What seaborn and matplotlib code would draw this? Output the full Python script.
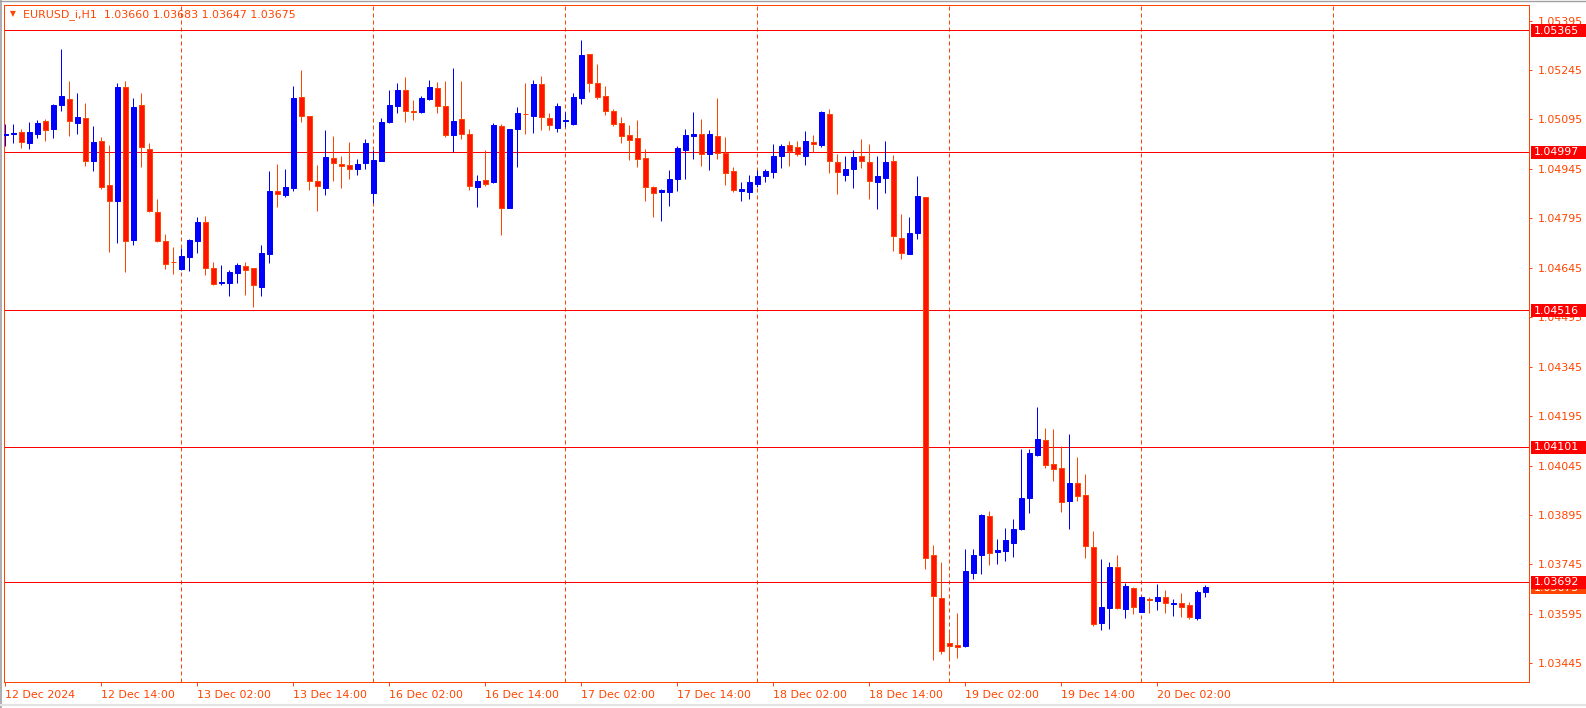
import numpy as np
import pandas as pd
import matplotlib
matplotlib.use("Agg")
import matplotlib.pyplot as plt
import matplotlib.transforms as mtransforms
from matplotlib.patches import Rectangle
from matplotlib.lines import Line2D
import seaborn as sns

# ---------------- data (EURUSD_i, H1) ----------------
symbol = "EURUSD_i,H1"

opens = [1.05048, 1.05052, 1.05056, 1.05024, 1.05052, 1.05090, 1.05067, 1.05140, 1.05157, 1.05085,
         1.05098, 1.04970, 1.05030, 1.04895, 1.04848, 1.05192, 1.04730, 1.05139, 1.05005, 1.04814,
         1.04726, 1.04663, 1.04642, 1.04679, 1.04727, 1.04783, 1.04643, 1.04600, 1.04600, 1.04630,
         1.04649, 1.04643, 1.04587, 1.04688, 1.04877, 1.04866, 1.04888, 1.05162, 1.05105, 1.04907,
         1.04888, 1.04978, 1.04959, 1.04956, 1.04946, 1.04964, 1.04873, 1.04970, 1.05087, 1.05137,
         1.05184, 1.05121, 1.05118, 1.05157, 1.05190, 1.05136, 1.05049, 1.05096, 1.05051, 1.04891,
         1.04910, 1.04904, 1.05074, 1.04827, 1.05067, 1.05112, 1.05106, 1.05203, 1.05098, 1.05070,
         1.05089, 1.05082, 1.05160, 1.05294, 1.05206, 1.05166, 1.05121, 1.05084, 1.05047, 1.05039,
         1.04978, 1.04890, 1.04876, 1.04875, 1.04915, 1.05003, 1.05046, 1.05050, 1.04991, 1.05044,
         1.04994, 1.04938, 1.04879, 1.04876, 1.04900, 1.04924, 1.04936, 1.04985, 1.05017, 1.05010,
         1.04985, 1.05026, 1.05018, 1.05111, 1.04965, 1.04927, 1.04946, 1.04983, 1.04965, 1.04906,
         1.04918, 1.04968, 1.04734, 1.04688, 1.04751, 1.04859, 1.03773, 1.03642, 1.03507, 1.03500,
         1.03497, 1.03720, 1.03774, 1.03892, 1.03782, 1.03787, 1.03811, 1.03853, 1.03948, 1.04078,
         1.04122, 1.04050, 1.04038, 1.03938, 1.03991, 1.03956, 1.03798, 1.03568, 1.03613, 1.03737,
         1.03611, 1.03673, 1.03602, 1.03640, 1.03635, 1.03645, 1.03626, 1.03627, 1.03621, 1.03582,
         1.03660]

highs = [1.05081, 1.05081, 1.05065, 1.05087, 1.05093, 1.05095, 1.05142, 1.05309, 1.05212, 1.05175,
         1.05145, 1.05075, 1.05042, 1.05017, 1.05206, 1.05212, 1.05160, 1.05175, 1.05024, 1.04854,
         1.04747, 1.04708, 1.04705, 1.04732, 1.04800, 1.04802, 1.04662, 1.04653, 1.04638, 1.04659,
         1.04662, 1.04643, 1.04714, 1.04939, 1.04960, 1.04945, 1.05196, 1.05245, 1.05105, 1.04957,
         1.05063, 1.05044, 1.04984, 1.05027, 1.04975, 1.05037, 1.05002, 1.05099, 1.05184, 1.05206,
         1.05224, 1.05154, 1.05166, 1.05215, 1.05210, 1.05212, 1.05251, 1.05212, 1.05066, 1.04926,
         1.05002, 1.05084, 1.05080, 1.05066, 1.05133, 1.05206, 1.05215, 1.05227, 1.05115, 1.05145,
         1.05118, 1.05175, 1.05336, 1.05294, 1.05264, 1.05196, 1.05127, 1.05102, 1.05078, 1.05093,
         1.05005, 1.04893, 1.04884, 1.04942, 1.05014, 1.05066, 1.05118, 1.05096, 1.05063, 1.05160,
         1.05042, 1.04952, 1.04905, 1.04926, 1.04942, 1.04945, 1.05020, 1.05019, 1.05030, 1.05030,
         1.05060, 1.05047, 1.05121, 1.05127, 1.04989, 1.04984, 1.05001, 1.05036, 1.05020, 1.04984,
         1.05030, 1.04987, 1.04808, 1.04799, 1.04923, 1.04859, 1.03804, 1.03752, 1.03536, 1.03598,
         1.03792, 1.03792, 1.03898, 1.03907, 1.03822, 1.03856, 1.03883, 1.04095, 1.04095, 1.04223,
         1.04159, 1.04156, 1.04104, 1.04141, 1.04071, 1.04019, 1.03846, 1.03761, 1.03753, 1.03774,
         1.03689, 1.03675, 1.03649, 1.03646, 1.03686, 1.03667, 1.03640, 1.03658, 1.03631, 1.03667,
         1.03683]

lows = [1.05014, 1.05024, 1.05009, 1.05006, 1.05039, 1.05030, 1.05039, 1.05121, 1.05045, 1.05051,
        1.04954, 1.04939, 1.04885, 1.04694, 1.04721, 1.04633, 1.04715, 1.04952, 1.04814, 1.04724,
        1.04641, 1.04627, 1.04637, 1.04636, 1.04691, 1.04623, 1.04593, 1.04593, 1.04559, 1.04600,
        1.04562, 1.04526, 1.04559, 1.04660, 1.04830, 1.04861, 1.04879, 1.05088, 1.04882, 1.04818,
        1.04866, 1.04909, 1.04888, 1.04915, 1.04927, 1.04946, 1.04841, 1.04970, 1.05084, 1.05115,
        1.05088, 1.05094, 1.05115, 1.05154, 1.05115, 1.05043, 1.04996, 1.05037, 1.04882, 1.04830,
        1.04894, 1.04902, 1.04745, 1.04827, 1.04952, 1.05052, 1.05055, 1.05064, 1.05064, 1.05058,
        1.05073, 1.05079, 1.05142, 1.05178, 1.05157, 1.05108, 1.05075, 1.05024, 1.04972, 1.04952,
        1.04848, 1.04799, 1.04787, 1.04833, 1.04878, 1.04914, 1.04976, 1.04955, 1.04942, 1.04976,
        1.04897, 1.04876, 1.04848, 1.04854, 1.04891, 1.04905, 1.04918, 1.04949, 1.04955, 1.04985,
        1.04958, 1.04995, 1.05012, 1.04932, 1.04870, 1.04909, 1.04888, 1.04949, 1.04855, 1.04824,
        1.04873, 1.04696, 1.04671, 1.04688, 1.04733, 1.03732, 1.03455, 1.03473, 1.03455, 1.03461,
        1.03495, 1.03702, 1.03717, 1.03743, 1.03747, 1.03756, 1.03768, 1.03850, 1.03902, 1.04075,
        1.04038, 1.03999, 1.03905, 1.03853, 1.03938, 1.03765, 1.03559, 1.03545, 1.03550, 1.03611,
        1.03582, 1.03596, 1.03601, 1.03599, 1.03607, 1.03599, 1.03588, 1.03585, 1.03580, 1.03575,
        1.03647]

closes = [1.05051, 1.05054, 1.05027, 1.05057, 1.05084, 1.05064, 1.05139, 1.05166, 1.05089, 1.05102,
          1.04968, 1.05027, 1.04891, 1.04847, 1.05193, 1.04727, 1.05133, 1.05010, 1.04817, 1.04727,
          1.04656, 1.04661, 1.04681, 1.04729, 1.04784, 1.04645, 1.04597, 1.04601, 1.04631, 1.04653,
          1.04639, 1.04594, 1.04689, 1.04878, 1.04870, 1.04890, 1.05160, 1.05105, 1.04907, 1.04892,
          1.04981, 1.04962, 1.04955, 1.04946, 1.04960, 1.05024, 1.04972, 1.05087, 1.05139, 1.05184,
          1.05120, 1.05119, 1.05160, 1.05193, 1.05137, 1.05049, 1.05090, 1.05050, 1.04892, 1.04908,
          1.04900, 1.05078, 1.04827, 1.05066, 1.05115, 1.05110, 1.05203, 1.05101, 1.05079, 1.05136,
          1.05093, 1.05163, 1.05290, 1.05206, 1.05164, 1.05121, 1.05081, 1.05046, 1.05034, 1.04976,
          1.04891, 1.04873, 1.04881, 1.04914, 1.05008, 1.05047, 1.05050, 1.04989, 1.05050, 1.04992,
          1.04933, 1.04882, 1.04883, 1.04905, 1.04923, 1.04939, 1.04983, 1.05013, 1.05000, 1.04989,
          1.05029, 1.05020, 1.05118, 1.04968, 1.04935, 1.04944, 1.04981, 1.04968, 1.04907, 1.04923,
          1.04966, 1.04741, 1.04689, 1.04750, 1.04862, 1.03765, 1.03650, 1.03483, 1.03498, 1.03495,
          1.03725, 1.03773, 1.03895, 1.03781, 1.03789, 1.03819, 1.03852, 1.03947, 1.04083, 1.04125,
          1.04048, 1.04035, 1.03935, 1.03992, 1.03954, 1.03800, 1.03565, 1.03616, 1.03737, 1.03613,
          1.03680, 1.03617, 1.03646, 1.03638, 1.03646, 1.03627, 1.03629, 1.03617, 1.03585, 1.03660,
          1.03675]

levels = [1.05365, 1.04997, 1.04516, 1.04101, 1.03692]
current_price = 1.03675
price_ticks = [1.05395, 1.05245, 1.05095, 1.04945, 1.04795, 1.04645, 1.04495,
               1.04345, 1.04195, 1.04045, 1.03895, 1.03745, 1.03595, 1.03445]

# hourly bars, trading days only
times = pd.date_range("2024-12-12 02:00", "2024-12-20 08:00", freq="h")
times = times[times.dayofweek < 5]

df = pd.DataFrame({"time": times, "open": opens, "high": highs, "low": lows, "close": closes})
df["idx"] = np.arange(len(df))
df["bull"] = df["close"] >= df["open"]

# ---------------- style ----------------
sns.set_theme(style="white")
plt.rcParams["font.family"] = ["DejaVu Sans"]
TXT = "#FF4500"
BULL = "#0000FF"
BEAR_FILL = "#FF1400"
BEAR_EDGE = "#FF4500"
LEVEL = "#FF0000"
FS = 7.9
LW = 0.72

W, H = 1586, 708
fig = plt.figure(figsize=(W / 100, H / 100), dpi=100, facecolor="white")
Lp, Rp, Tp, Bp = 4, 1529, 5, 682
ax = fig.add_axes([Lp / W, 1 - Bp / H, (Rp - Lp) / W, (Bp - Tp) / H])
ax.set_facecolor("white")

x_lo, x_hi = -0.16, 190.46
y_lo, y_hi = 1.033883, 1.054422
ax.set_xlim(x_lo, x_hi)
ax.set_ylim(y_lo, y_hi)

# day separators (dashed)
day_pos = list(df.loc[df["time"].dt.hour == 0, "idx"])
nxt = day_pos[-1] + 24
while nxt < x_hi - 5:
    day_pos.append(nxt)
    nxt += 24
for p in day_pos:
    ax.axvline(p, color=TXT, lw=LW, linestyle=(0, (4, 3)), zorder=1)

# horizontal levels
for lv in levels:
    ax.axhline(lv, color=LEVEL, lw=LW, zorder=2)

# candles
wick_colors = np.where(df["bull"], BULL, BEAR_EDGE)
ax.vlines(df["idx"], df["low"], df["high"], colors=wick_colors, lw=LW, zorder=3)
bottoms = np.minimum(df["open"], df["close"])
heights = np.abs(df["close"] - df["open"])
fills = np.where(df["bull"], BULL, BEAR_FILL)
edges = np.where(df["bull"], BULL, BEAR_EDGE)
ax.bar(df["idx"], heights, bottom=bottoms, width=0.56, color=fills,
       edgecolor=edges, linewidth=LW, zorder=4)

# spines
for s in ax.spines.values():
    s.set_visible(True)
    s.set_color(TXT)
    s.set_linewidth(LW)

# price axis on the right
ax.yaxis.tick_right()
ax.set_yticks(price_ticks)
ax.set_yticklabels([f"{t:.5f}" for t in price_ticks])
ax.tick_params(axis="y", direction="out", length=2.5, width=LW, colors=TXT,
               labelsize=FS, pad=3.5, left=False, right=True)

# time axis
mask = df["time"].dt.hour.isin([2, 14])
tick_idx = list(df.loc[mask, "idx"])
tick_lab = [t.strftime("%d %b %H:%M") for t in df.loc[mask, "time"]]
tick_lab[0] = df["time"].iloc[0].strftime("%d %b %Y")
ax.set_xticks(tick_idx)
ax.set_xticklabels(tick_lab, ha="left")
ax.tick_params(axis="x", direction="out", length=3, width=LW, colors=TXT,
               labelsize=FS, pad=2.5, bottom=True)
ax.grid(False)

# level labels on price axis
trans = mtransforms.blended_transform_factory(ax.transAxes, ax.transData)
ppx = (y_hi - y_lo) / (Bp - Tp)
bx0 = (1531 - Lp) / (Rp - Lp)
bx1 = (1587 - Lp) / (Rp - Lp)
tx = (1534 - Lp) / (Rp - Lp)


def price_box(val, color, z):
    r = Rectangle((bx0, val - 6.8 * ppx), bx1 - bx0, 13.0 * ppx, transform=trans,
                  facecolor=color, edgecolor="none", clip_on=False, zorder=z)
    ax.add_patch(r)
    ax.text(tx, val - 0.3 * ppx, f"{val:.5f}", transform=trans, color="white",
            fontsize=FS, ha="left", va="center", clip_on=False, zorder=z + 0.5)


price_box(current_price, BEAR_EDGE, 10)
for k, lv in enumerate(levels):
    price_box(lv, LEVEL, 12 + k)

# title
title = f"{symbol}  {opens[-1]:.5f} {highs[-1]:.5f} {lows[-1]:.5f} {closes[-1]:.5f}"
fig.text(23 / W, 1 - 14.5 / H, title, color=TXT, fontsize=FS, ha="left", va="center")
fig.text(12.5 / W, 1 - 13.5 / H, "\u25BC", color=TXT, fontsize=5.5, ha="center", va="center")

# window frame
fig.add_artist(Line2D([0.5 / W, 0.5 / W], [0, 1], color="#A0A0A0", lw=1.2))
fig.add_artist(Line2D([0, 1], [1 - 0.5 / H, 1 - 0.5 / H], color="#A0A0A0", lw=1.0))
fig.add_artist(Line2D([0, 1], [1 - 705 / H, 1 - 705 / H], color="#E3E3E3", lw=1.5))

fig.savefig("out.png", dpi=100, facecolor="white")
